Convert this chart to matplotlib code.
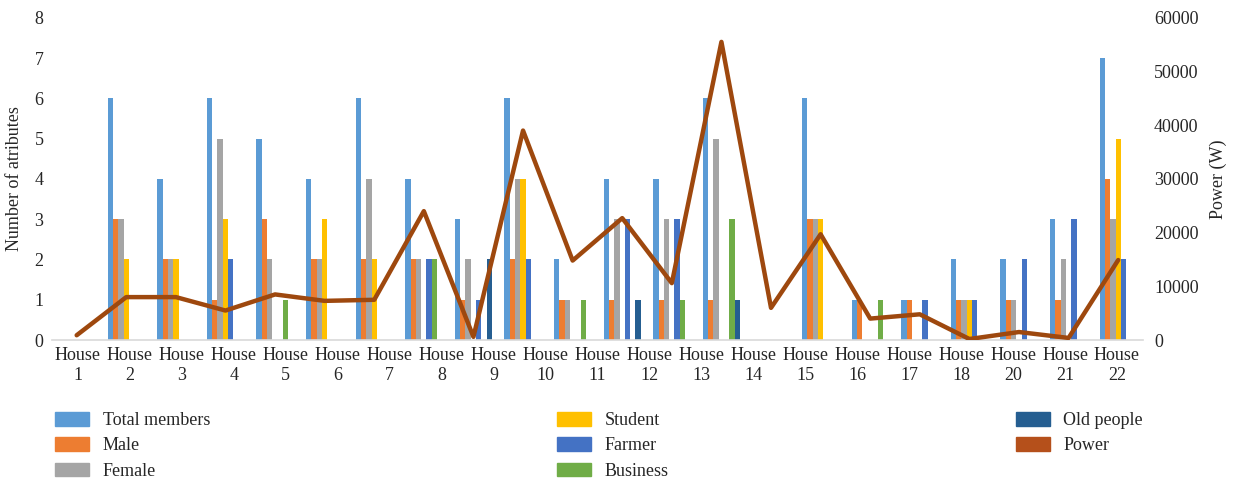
import numpy as np
import matplotlib
matplotlib.use("Agg")
import matplotlib.pyplot as plt
from matplotlib.patches import Patch

plt.rcParams['font.family'] = ['Liberation Serif', 'DejaVu Serif']

# 22 data points (houses 1..22), bars per attribute
total_members = [0, 6, 4, 6, 5, 4, 6, 4, 3, 6, 2, 4, 4, 6, 0, 6, 1, 1, 2, 2, 3, 7]
male          = [0, 3, 2, 1, 3, 2, 2, 2, 1, 2, 1, 1, 1, 1, 0, 3, 1, 1, 1, 1, 1, 4]
female        = [0, 3, 2, 5, 2, 2, 4, 2, 2, 4, 1, 3, 3, 5, 0, 3, 0, 0, 1, 1, 2, 3]
student       = [0, 2, 2, 3, 0, 3, 2, 0, 0, 4, 0, 0, 0, 0, 0, 3, 0, 0, 1, 0, 0, 5]
farmer        = [0, 0, 0, 2, 0, 0, 0, 2, 1, 2, 0, 3, 3, 0, 0, 0, 0, 1, 1, 2, 3, 2]
business      = [0, 0, 0, 0, 1, 0, 0, 2, 0, 0, 1, 0, 1, 3, 0, 0, 1, 0, 0, 0, 0, 0]
old_people    = [0, 0, 0, 0, 0, 0, 0, 0, 2, 0, 0, 1, 0, 1, 0, 0, 0, 0, 0, 0, 0, 0]
power = [900, 8000, 8000, 5500, 8500, 7300, 7500, 24000, 600, 39000, 14800, 22700,
         10600, 55500, 6000, 19700, 4000, 4800, 200, 1500, 400, 14900]

# the axis shows 21 labels (no house 19)
house_labels = ["1", "2", "3", "4", "5", "6", "7", "8", "9", "10", "11", "12", "13",
                "14", "15", "16", "17", "18", "20", "21", "22"]

series = [
    ("Total members", total_members, "#5B9BD5"),
    ("Male", male, "#ED7D31"),
    ("Female", female, "#A5A5A5"),
    ("Student", student, "#FFC000"),
    ("Farmer", farmer, "#4472C4"),
    ("Business", business, "#70AD47"),
    ("Old people", old_people, "#255E91"),
]
power_color = "#9E480E"
text_color = "#262626"

fig = plt.figure(figsize=(12.35, 4.79), dpi=100)
ax = fig.add_axes([0.042, 0.290, 0.8835, 0.673])

x = np.arange(len(power))
w = 0.107
for k, (name, vals, col) in enumerate(series):
    ax.bar(x + (k - 3) * w, vals, width=w, color=col, zorder=2)

ax.set_xlim(-0.5, len(power) - 0.5)
ax.set_ylim(0, 8)
ax.set_yticks(range(0, 9))
n = len(house_labels)
span = len(power) / n
ax.set_xticks(np.linspace(-0.5 + span / 2, len(power) - 0.5 - span / 2, n))
ax.set_xticklabels(["House\n" + h for h in house_labels], linespacing=1.25)
ax.tick_params(axis="both", length=0, labelsize=13, colors=text_color)
ax.tick_params(axis="x", pad=5)
ax.tick_params(axis="y", pad=6)
for s in ["top", "left", "right"]:
    ax.spines[s].set_visible(False)
ax.spines["bottom"].set_color("#D9D9D9")
ax.spines["bottom"].set_linewidth(1.2)
ax.set_ylabel("Number of atributes", fontsize=13, color=text_color, labelpad=8)

ax2 = ax.twinx()
ax2.plot(x, power, color=power_color, lw=3.2, solid_joinstyle="round",
         solid_capstyle="round", zorder=3)
ax2.set_ylim(0, 60000)
ax2.set_yticks(range(0, 60001, 10000))
ax2.tick_params(axis="y", length=0, labelsize=13, colors=text_color, pad=8)
for s in ["top", "left", "right", "bottom"]:
    ax2.spines[s].set_visible(False)
ax2.set_ylabel("Power (W)", fontsize=13, color=text_color, labelpad=8)

handles = [Patch(color=col, label=name) for name, _, col in series]
handles.append(Patch(color="#B5501B", label="Power"))
fig.legend(handles=handles, ncol=3, loc="upper left", mode="expand",
           bbox_to_anchor=(0.0445, 0.140, 0.881, 0.0), frameon=False,
           borderpad=0, borderaxespad=0,
           fontsize=13, handlelength=1.9, handleheight=0.8,
           handletextpad=0.75, labelspacing=0.45, labelcolor=text_color)

fig.savefig("out.png", dpi=100)
